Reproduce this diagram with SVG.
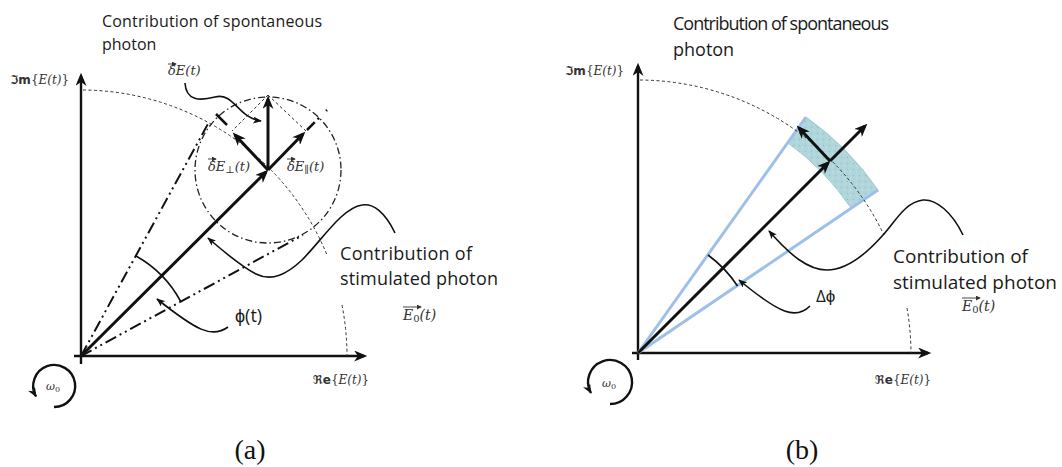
<svg xmlns="http://www.w3.org/2000/svg" width="1062" height="467" viewBox="0 0 1062 467">
<style>
.ax{stroke:#111;stroke-width:2.4;fill:none}
.vec{stroke:#111;stroke-width:3;fill:none}
.thin{stroke:#333;stroke-width:1;fill:none;stroke-dasharray:3 2.5}
.curl{stroke:#111;stroke-width:1.6;fill:none}
.tan{stroke:#111;stroke-width:2;fill:none;stroke-dasharray:12 4 2 4 2 4}
.circ{stroke:#222;stroke-width:1.3;fill:none;stroke-dasharray:7 3 1.5 3}
.blue{stroke:#9ec0e8;stroke-width:3;fill:none}
.om{stroke:#111;stroke-width:2.4;fill:none}
.oa{stroke:#333;stroke-width:0.9;fill:none}
.lbl{font-family:"Open Sans","Liberation Sans",sans-serif;fill:#1a1a1a}
.math{font-family:"DejaVu Serif","DejaVu Sans",serif;font-style:italic;fill:#333}
.up{font-style:normal}
.frak{font-family:"DejaVu Sans",serif;font-style:normal;font-weight:bold}
.cap{font-family:"Liberation Serif",serif;fill:#111}
</style>
<defs>
<marker id="ah" viewBox="0 0 12 10" refX="9" refY="5" markerWidth="14" markerHeight="11" markerUnits="userSpaceOnUse" orient="auto"><path d="M0,0 L12,5 L0,10 L3.5,5 Z" fill="#111"/></marker>
<marker id="ahs" viewBox="0 0 10 8" refX="9" refY="4" markerWidth="9" markerHeight="7" markerUnits="userSpaceOnUse" orient="auto"><path d="M0,0 L10,4 L0,8 L2.5,4 Z" fill="#111"/></marker>
<marker id="aho" viewBox="0 0 10 8" refX="9" refY="4" markerWidth="10" markerHeight="8" markerUnits="userSpaceOnUse" orient="auto"><path d="M0,0 L10,4 L0,8 L3,4 Z" fill="#111"/></marker>
<marker id="ahx" viewBox="0 0 6 6" refX="5" refY="3" markerWidth="5" markerHeight="5" markerUnits="userSpaceOnUse" orient="auto"><path d="M0,0 L6,3 L0,6 Z" fill="#333"/></marker>
<pattern id="speck" width="6" height="6" patternUnits="userSpaceOnUse">
<rect width="6" height="6" fill="#b0d6db"/>
<circle cx="1.5" cy="1.5" r="0.7" fill="#8fbfc6"/>
<circle cx="4.5" cy="4" r="0.6" fill="#d0e8ea"/>
</pattern>
</defs>

<!-- ===== Panel (a) ===== -->
<g id="a-axes">
<line class="ax" x1="81" y1="364" x2="81" y2="76" marker-end="url(#ah)"/>
<line class="ax" x1="74" y1="356" x2="364" y2="356" marker-end="url(#ah)"/>
</g>
<g id="a-connectors">
<path class="thin" d="M83,90 A266,266 0 0 1 327,255"/>
<path class="thin" d="M342,305 A266,266 0 0 1 347,356"/>
<circle class="circ" cx="268" cy="170" r="73"/>
<line class="tan" x1="81" y1="356" x2="209" y2="122"/>
<line class="tan" x1="81" y1="356" x2="303" y2="235"/>
<line stroke="#111" stroke-width="2.5" x1="216" y1="114" x2="227" y2="125"/>
<line stroke="#111" stroke-width="2.5" stroke-dasharray="11 4 2 10" x1="307" y1="130" x2="327" y2="110"/>
<line class="thin" x1="268" y1="95" x2="232" y2="131"/>
<line class="thin" x1="268" y1="95" x2="306" y2="131"/>
<path class="vec" d="M81,356 L266,172" marker-end="url(#ah)"/>
<path class="vec" d="M268,170 L268,99" marker-end="url(#ah)"/>
<path class="vec" d="M268,170 L235,135" marker-end="url(#ah)"/>
<path class="vec" d="M268,170 L303,134" marker-end="url(#ah)"/>
<path class="curl" d="M136,256 A114,114 0 0 1 181,302"/>
<path class="curl" d="M228,327 C212,339 196,330 157,299" marker-end="url(#ahs)"/>
<path class="curl" d="M395,233 C385,212 373,203 362,205 C342,208 322,240 302,260 C287,274 272,282 256,274 C240,266 222,250 208,238" marker-end="url(#ahs)"/>
<path class="curl" d="M185,83 C186,101 200,101 215,97 C234,92 238,118 261,121" marker-end="url(#ahs)"/>
</g>
<g id="a-omega">
<path class="om" d="M54,407 A21,21 0 1 0 36,396.5" marker-end="url(#aho)"/>
<text class="math" x="46" y="390" font-size="11">ω<tspan class="up" font-size="8" dy="2">0</tspan></text>
</g>
<g id="a-labels">
<text class="lbl" x="102" y="27" font-size="16" textLength="220">Contribution of spontaneous</text>
<text class="lbl" x="102" y="50" font-size="16">photon</text>
<text class="lbl" x="340" y="260" font-size="18" textLength="132">Contribution of</text>
<text class="lbl" x="340" y="285" font-size="18" textLength="158">stimulated photon</text>
<text class="lbl" x="235" y="322" font-size="18">ϕ(t)</text>
<text class="math" x="10" y="84" font-size="12"><tspan class="frak">ℑm</tspan><tspan class="up">{</tspan>E(t)<tspan class="up">}</tspan></text>
<text class="math" x="313" y="384" font-size="12"><tspan class="frak">ℜe</tspan><tspan class="up">{</tspan>E(t)<tspan class="up">}</tspan></text>
<text class="math" x="168" y="75" font-size="13">δE(t)</text>
<line class="oa" x1="168" y1="64" x2="176" y2="64" marker-end="url(#ahx)"/>
<text class="math" x="208" y="171" font-size="13">δE<tspan font-size="10" dy="2">⊥</tspan><tspan dy="-2">(t)</tspan></text>
<line class="oa" x1="208" y1="159" x2="216" y2="159" marker-end="url(#ahx)"/>
<text class="math" x="287" y="171" font-size="13">δE<tspan font-size="10" dy="2">∥</tspan><tspan dy="-2">(t)</tspan></text>
<line class="oa" x1="287" y1="159" x2="295" y2="159" marker-end="url(#ahx)"/>
<text class="math" x="403" y="320" font-size="14">E<tspan class="up" font-size="10" dy="2">0</tspan><tspan dy="-2">(t)</tspan></text>
<line class="oa" x1="403" y1="307" x2="421" y2="307" marker-end="url(#ahx)"/>
<text class="cap" x="250" y="459" font-size="28" text-anchor="middle">(a)</text>
</g>

<!-- ===== Panel (b) ===== -->
<g id="b-band">
<path d="M806,117 A290,290 0 0 1 878,190 L851,208 A258,258 0 0 0 788,143 Z" fill="url(#speck)" stroke="#9fcad1" stroke-width="1"/>
</g>
<g id="b-axes">
<line class="ax" x1="638" y1="360" x2="638" y2="66" marker-end="url(#ah)"/>
<line class="ax" x1="632" y1="353" x2="928" y2="353" marker-end="url(#ah)"/>
</g>
<g id="b-connectors">
<line class="blue" x1="638" y1="353" x2="806" y2="117"/>
<line class="blue" x1="638" y1="353" x2="878" y2="190"/>
<path class="thin" d="M640,80 A273,273 0 0 1 884,235"/>
<path class="thin" d="M907,308 A273,273 0 0 1 911,353"/>
<path class="vec" d="M638,353 L828,163" marker-end="url(#ah)"/>
<path class="vec" d="M830,161 L799,128" marker-end="url(#ah)"/>
<path class="vec" d="M830,161 L865,126" marker-end="url(#ah)"/>
<path class="curl" d="M708,255 A120,120 0 0 1 737.5,286"/>
<path class="curl" d="M810,306 C796,320 780,314 739,280" marker-end="url(#ahs)"/>
<path class="curl" d="M963,235 C952,212 936,199 923,200 C905,202 895,222 883,235 C868,252 848,270 827,270 C808,270 790,255 769,231" marker-end="url(#ahs)"/>
</g>
<g id="b-omega">
<path class="om" d="M610,404 A22,22 0 1 0 591,393" marker-end="url(#aho)"/>
<text class="math" x="602" y="387" font-size="11">ω<tspan class="up" font-size="8" dy="2">0</tspan></text>
</g>
<g id="b-labels">
<text class="lbl" x="673" y="30" font-size="18" textLength="216">Contribution of spontaneous</text>
<text class="lbl" x="673" y="56" font-size="18">photon</text>
<text class="lbl" x="893" y="263" font-size="19" textLength="135">Contribution of</text>
<text class="lbl" x="893" y="289" font-size="19" textLength="164">stimulated photon</text>
<text class="lbl" x="816" y="302" font-size="17" fill="#333">Δϕ</text>
<text class="math" x="565" y="75" font-size="12"><tspan class="frak">ℑm</tspan><tspan class="up">{</tspan>E(t)<tspan class="up">}</tspan></text>
<text class="math" x="875" y="384" font-size="12"><tspan class="frak">ℜe</tspan><tspan class="up">{</tspan>E(t)<tspan class="up">}</tspan></text>
<text class="math" x="962" y="311" font-size="14">E<tspan class="up" font-size="10" dy="2">0</tspan><tspan dy="-2">(t)</tspan></text>
<line class="oa" x1="962" y1="298" x2="980" y2="298" marker-end="url(#ahx)"/>
<text class="cap" x="802" y="459" font-size="28" text-anchor="middle">(b)</text>
</g>
</svg>
